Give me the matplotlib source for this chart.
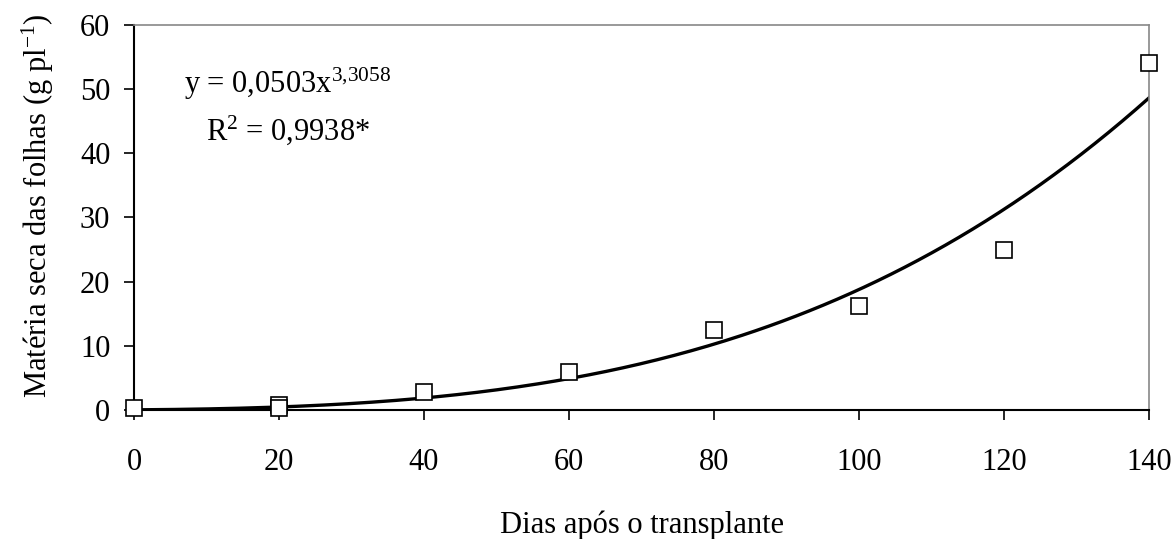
import numpy as np
import matplotlib
matplotlib.use("Agg")
import matplotlib.pyplot as plt

plt.rcParams['font.family'] = ['Liberation Serif', 'DejaVu Serif']
plt.rcParams['mathtext.fontset'] = 'custom'
plt.rcParams['mathtext.rm'] = 'Liberation Serif'
plt.rcParams['mathtext.it'] = 'Liberation Serif:italic'

# observed data
dias = [0, 20, 20, 40, 60, 80, 100, 120, 140]
materia_seca = [0.3, 0.8, 0.3, 2.8, 6.0, 12.5, 16.2, 25.0, 54.0]

# fitted model y = a * x^b, x = sampling index (1..8)
coef_a = 0.0503
coef_b = 3.3058
intervalo = 20

xticks = [0, 20, 40, 60, 80, 100, 120, 140]
yticks = [0, 10, 20, 30, 40, 50, 60]

FS = 22

fig = plt.figure(figsize=(11.75, 5.39), dpi=100)
ax = fig.add_axes([0.114, 0.239, 0.864, 0.715])

t = np.linspace(0, 140, 300)
ax.plot(t, coef_a * (t / intervalo + 1) ** coef_b, color='black', lw=2.4, zorder=2)
ax.plot(dias, materia_seca, linestyle='none', marker='s', markersize=11,
        markerfacecolor='white', markeredgecolor='black', markeredgewidth=1.2,
        zorder=3, clip_on=False)

ax.set_xlim(0, 140)
ax.set_ylim(0, 60)
ax.set_xticks(xticks)
ax.set_yticks(yticks)
ax.tick_params(axis='both', labelsize=FS, direction='out', length=7, width=1.2)
ax.tick_params(axis='x', pad=20)
ax.tick_params(axis='y', pad=10)

for s in ['left', 'bottom']:
    ax.spines[s].set_color('black')
    ax.spines[s].set_linewidth(1.5)
for s in ['top', 'right']:
    ax.spines[s].set_color('#888888')
    ax.spines[s].set_linewidth(1.2)

ax.set_xlabel('Dias após o transplante', fontsize=FS, labelpad=24)
ax.set_ylabel('Matéria seca das folhas (g pl$^{-1}$)', fontsize=FS, labelpad=17, y=0.53)

ax.text(21.2, 50.8, 'y = 0,0503x$^{3{,}3058}$', ha='center', va='center', fontsize=FS)
ax.text(21.2, 43.6, 'R$^{2}$ = 0,9938*', ha='center', va='center', fontsize=FS)

fig.savefig('out.png', dpi=100)
